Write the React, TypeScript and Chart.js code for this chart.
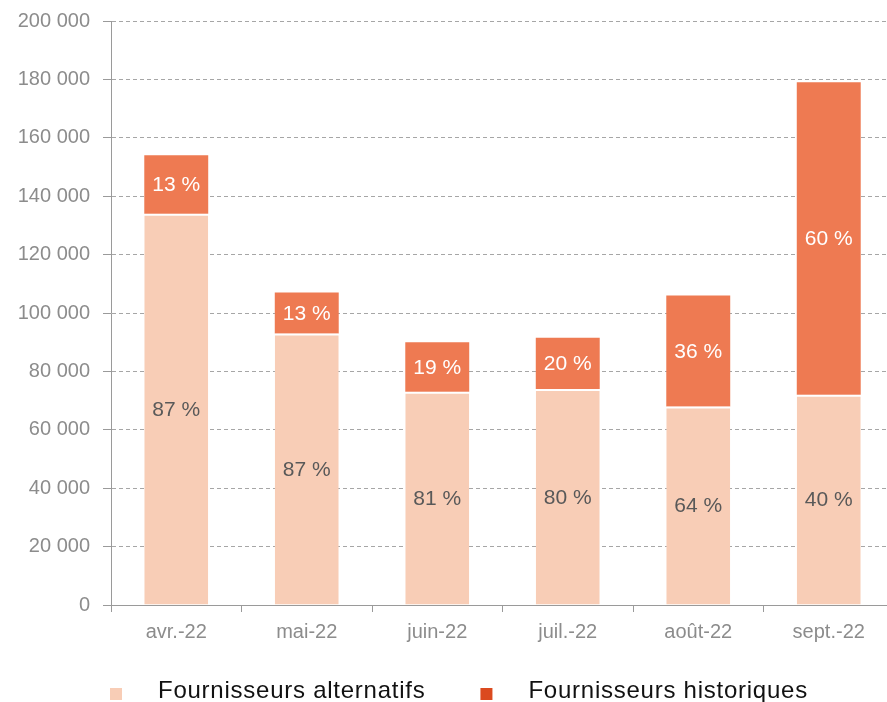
import React, { useEffect, useRef } from "react";
import { Chart, registerables } from "chart.js";

Chart.register(...registerables);

const categories = ["avr.-22", "mai-22", "juin-22", "juil.-22", "août-22", "sept.-22"];
const alternatifs = [134000, 93000, 73000, 74000, 68000, 72000];
const historiques = [20000, 14000, 17000, 17500, 38000, 107000];
const altLabels = ["87 %", "87 %", "81 %", "80 %", "64 %", "40 %"];
const histLabels = ["13 %", "13 %", "19 %", "20 %", "36 %", "60 %"];
const seriesNames = ["Fournisseurs alternatifs", "Fournisseurs historiques"];

const ALT_COLOR = "#F8CDB6";
const HIST_COLOR = "#EE7A52";
const LEGEND_COLORS = ["#F8CDB6", "#DB4A1F"];
const FONT = "'Liberation Sans', Arial, sans-serif";

const labelPlugin = {
  id: "barLabels",
  afterDatasetsDraw(chart: any) {
    const ctx = chart.ctx;
    const sets = [
      { idx: 0, labels: altLabels, color: "#595959" },
      { idx: 1, labels: histLabels, color: "#FFFFFF" },
    ];
    ctx.save();
    ctx.font = `21px ${FONT}`;
    ctx.textAlign = "center";
    ctx.textBaseline = "middle";
    sets.forEach((s) => {
      const meta = chart.getDatasetMeta(s.idx);
      meta.data.forEach((el: any, i: number) => {
        const p = el.getProps(["x", "y", "base"], true);
        ctx.fillStyle = s.color;
        ctx.fillText(s.labels[i], p.x, (p.y + p.base) / 2 + 1);
      });
    });
    ctx.restore();
  },
};

const legendPlugin = {
  id: "customLegend",
  afterDraw(chart: any) {
    const ctx = chart.ctx;
    ctx.save();
    ctx.font = `24px ${FONT}`;
    try {
      (ctx as any).letterSpacing = "0.75px";
    } catch (e) {}
    ctx.textBaseline = "middle";
    ctx.textAlign = "left";
    const y = chart.height - 11;
    let x = 110;
    seriesNames.forEach((name, i) => {
      ctx.fillStyle = LEGEND_COLORS[i];
      ctx.fillRect(x, y - 3, 12, 12);
      ctx.fillStyle = "#111111";
      const tx = x + 48;
      ctx.fillText(name, tx, y);
      x = tx + ctx.measureText(name).width + 55;
    });
    ctx.restore();
  },
};

export default function App() {
  const ref = useRef<HTMLCanvasElement | null>(null);

  useEffect(() => {
    if (!ref.current) return;
    const chart = new Chart(ref.current, {
      type: "bar",
      data: {
        labels: categories,
        datasets: [
          {
            label: seriesNames[0],
            data: alternatifs,
            backgroundColor: ALT_COLOR,
            borderColor: "#FFFFFF",
            borderWidth: { top: 2, left: 0, right: 0, bottom: 0 },
            borderSkipped: false,
          },
          {
            label: seriesNames[1],
            data: historiques,
            backgroundColor: HIST_COLOR,
            borderWidth: 0,
          },
        ],
      },
      options: {
        responsive: false,
        animation: false,
        layout: { padding: { top: 21, right: 0, left: 0, bottom: 60 } },
        datasets: {
          bar: { categoryPercentage: 1, barPercentage: 0.49 },
        },
        plugins: {
          legend: { display: false },
          tooltip: { enabled: false },
        },
        scales: {
          x: {
            stacked: true,
            grid: {
              display: true,
              drawOnChartArea: false,
              drawTicks: true,
              tickLength: 7,
              color: "#9a9a9a",
              offset: true,
            },
            border: { display: true, color: "#9a9a9a", width: 1 },
            ticks: {
              color: "#8c8c8c",
              font: { family: FONT, size: 20 },
              padding: 8,
            },
            afterFit: (scale: any) => {
              scale.height = 37;
              scale.paddingLeft = 0;
              scale.paddingRight = 0;
            },
          },
          y: {
            stacked: true,
            min: 0,
            max: 200000,
            grid: {
              color: "#a6a6a6",
              tickColor: "#9a9a9a",
              tickLength: 8,
              drawTicks: true,
            },
            border: { display: true, color: "#9a9a9a", width: 1, dash: [4, 3] },
            ticks: {
              stepSize: 20000,
              color: "#8c8c8c",
              font: { family: FONT, size: 20 },
              padding: 13,
              callback: (v: any) =>
                Number(v).toString().replace(/\B(?=(\d{3})+(?!\d))/g, " "),
            },
            afterFit: (scale: any) => {
              scale.width = 111;
              scale.paddingTop = 0;
              scale.paddingBottom = 0;
            },
          },
        },
      },
      plugins: [labelPlugin, legendPlugin],
    } as any);
    return () => chart.destroy();
  }, []);

  return (
    <div
      style={{
        position: "absolute",
        left: 0,
        top: 0,
        width: 887,
        height: 702,
        overflow: "hidden",
      }}
    >
      <canvas ref={ref} width={894} height={702} style={{ display: "block" }} />
    </div>
  );
}
